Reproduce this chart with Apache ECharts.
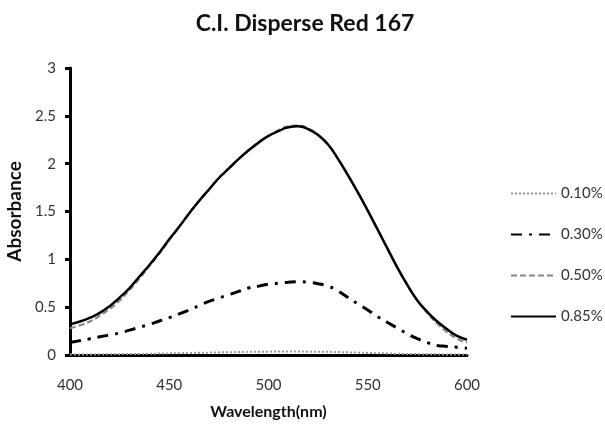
<!DOCTYPE html>
<html><head><meta charset="utf-8">
<script src="https://cdn.jsdelivr.net/npm/echarts@6/dist/echarts.min.js"></script>
<style>html,body{margin:0;padding:0;background:#fff}#c{width:605px;height:429px}</style>
</head><body><div id="c"></div>
<script>
const wavelengths = [400,405,410,415,420,425,430,435,440,445,450,455,460,465,470,475,480,485,490,495,500,505,510,515,520,525,530,535,540,545,550,555,560,565,570,575,580,585,590,595,600];
const s010 = [0.005,0.005,0.006,0.007,0.008,0.009,0.010,0.011,0.013,0.015,0.017,0.019,0.021,0.023,0.025,0.027,0.029,0.031,0.033,0.034,0.035,0.036,0.036,0.036,0.035,0.034,0.033,0.031,0.028,0.025,0.022,0.019,0.016,0.013,0.011,0.009,0.008,0.007,0.006,0.005,0.005];
const s030 = [0.13,0.15,0.17,0.19,0.21,0.23,0.26,0.29,0.32,0.355,0.39,0.43,0.47,0.515,0.56,0.595,0.63,0.665,0.70,0.72,0.74,0.75,0.76,0.765,0.76,0.745,0.72,0.67,0.60,0.535,0.47,0.40,0.34,0.28,0.22,0.17,0.13,0.10,0.09,0.08,0.07];
const s050 = [0.28,0.31,0.35,0.41,0.48,0.57,0.68,0.80,0.93,1.06,1.20,1.34,1.48,1.61,1.73,1.85,1.95,2.05,2.14,2.22,2.29,2.35,2.39,2.40,2.37,2.30,2.20,2.05,1.88,1.70,1.51,1.31,1.11,0.91,0.73,0.57,0.44,0.33,0.24,0.17,0.13];
const s085 = [0.32,0.35,0.39,0.44,0.51,0.60,0.70,0.82,0.94,1.07,1.21,1.34,1.48,1.61,1.73,1.85,1.95,2.05,2.14,2.22,2.29,2.34,2.38,2.39,2.36,2.30,2.20,2.05,1.88,1.70,1.51,1.31,1.11,0.91,0.73,0.57,0.45,0.35,0.27,0.20,0.16];
const seriesNames = ['0.10%','0.30%','0.50%','0.85%'];
const yTicks = [0,0.5,1,1.5,2,2.5,3];
const xTicks = [400,450,500,550,600];

const pair = arr => wavelengths.map((w,i)=>[w,arr[i]]);
const F = 'Lato, "Open Sans", sans-serif';
const chart = echarts.init(document.getElementById('c'));
chart.setOption({
  animation:false,
  title:{text:'C.I. Disperse Red 167',left:300,textAlign:'center',top:7,
    textStyle:{fontFamily:F,fontSize:23,fontWeight:'bold',color:'#111'}},
  grid:{left:70,right:138,top:68,bottom:74,containLabel:false,outerBoundsMode:'none'},
  legend:{orient:'vertical',left:505,top:181,itemWidth:45,itemHeight:14,itemGap:26,
    textStyle:{fontFamily:F,fontSize:15,color:'#333'},
    data:seriesNames},
  xAxis:{type:'value',min:400,max:600,interval:50,
    name:'Wavelength(nm)',nameLocation:'middle',nameGap:49,
    nameTextStyle:{fontFamily:F,fontSize:16,fontWeight:'bold',color:'#111'},
    axisLine:{lineStyle:{color:'#000',width:3}},axisTick:{show:false},
    axisLabel:{fontFamily:F,fontSize:15,color:'#333',margin:23},
    splitLine:{show:false}},
  yAxis:{type:'value',min:0,max:3,interval:0.5,
    name:'Absorbance',nameLocation:'middle',nameGap:43,nameRotate:90,
    nameTextStyle:{fontFamily:F,fontSize:19,fontWeight:'bold',color:'#111'},
    axisLine:{show:true,lineStyle:{color:'#000',width:3}},
    axisTick:{show:true,length:5,lineStyle:{color:'#000',width:3}},
    axisLabel:{fontFamily:F,fontSize:15,color:'#333',margin:14},
    splitLine:{show:false}},
  series:[
    {name:seriesNames[0],type:'line',data:pair(s010),symbol:'none',smooth:true,z:1,
      lineStyle:{color:'#999',width:2,type:[2,2]},itemStyle:{color:'#999',opacity:0}},
    {name:seriesNames[1],type:'line',data:pair(s030),symbol:'none',smooth:true,z:2,
      lineStyle:{color:'#000',width:3,type:[11,7,3,7]},itemStyle:{color:'#000',opacity:0}},
    {name:seriesNames[2],type:'line',data:pair(s050),symbol:'none',smooth:true,z:3,
      lineStyle:{color:'#888',width:2.2,type:[6,3]},itemStyle:{color:'#888',opacity:0}},
    {name:seriesNames[3],type:'line',data:pair(s085),symbol:'none',smooth:true,z:4,
      lineStyle:{color:'#000',width:2.5},itemStyle:{color:'#000',opacity:0}}
  ]
});
</script></body></html>
